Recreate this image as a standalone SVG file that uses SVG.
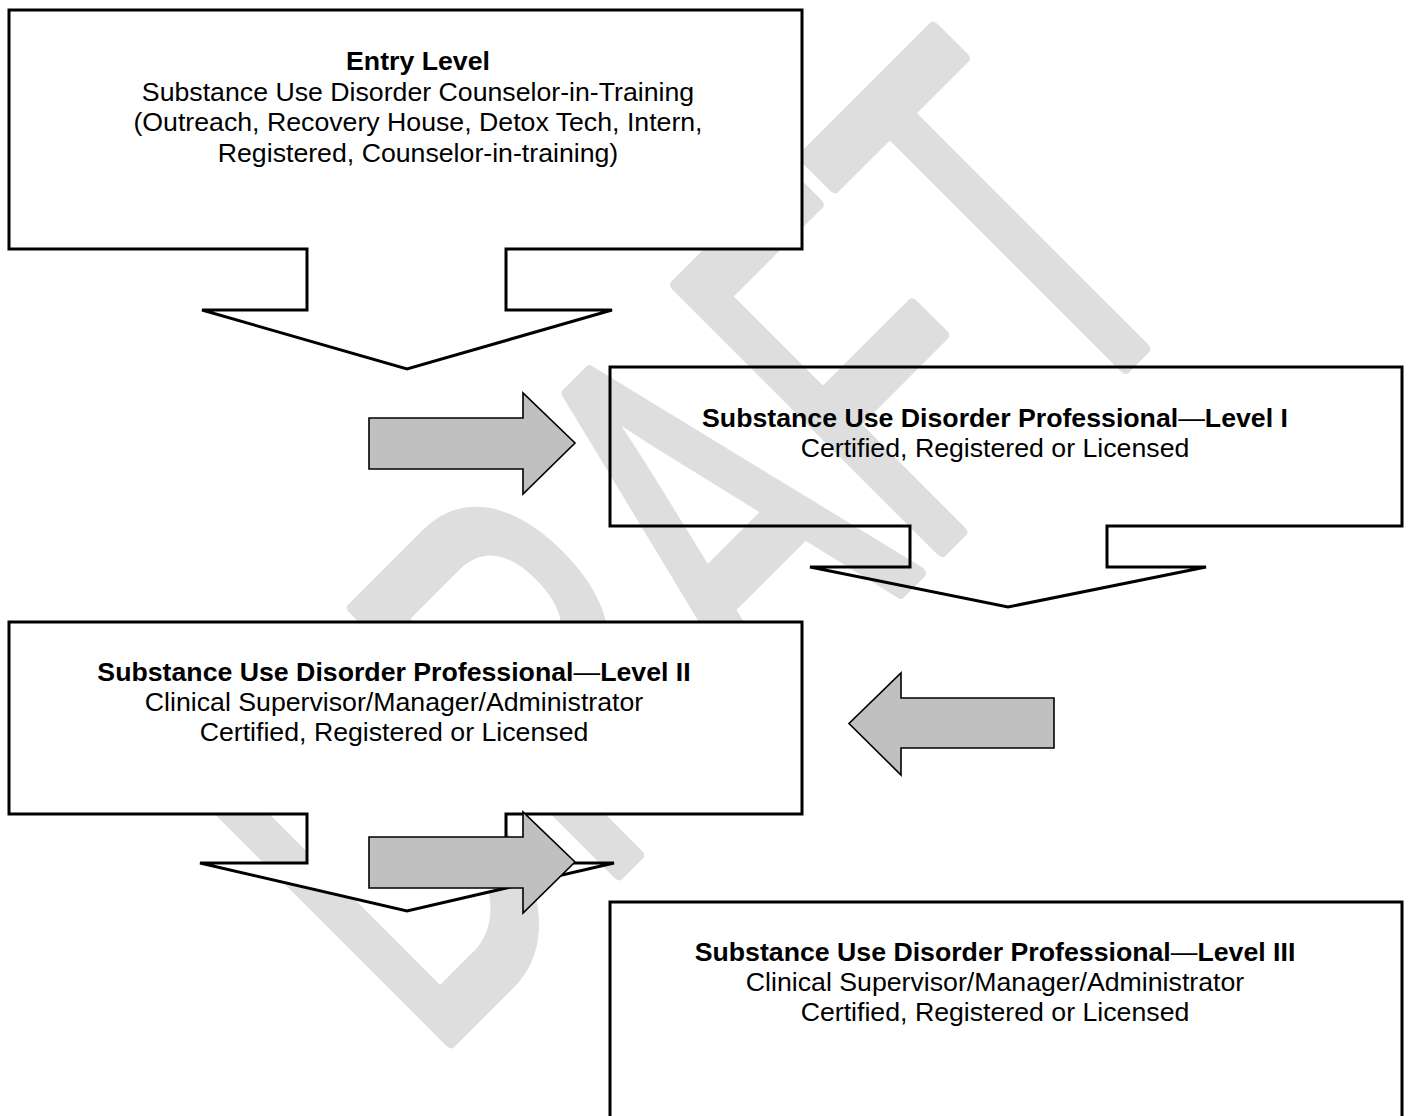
<svg xmlns="http://www.w3.org/2000/svg" width="1408" height="1116" viewBox="0 0 1408 1116">
<style>
.box{fill:#fff;stroke:#000;stroke-width:3;stroke-linejoin:miter}
.open{fill:none;stroke:#000;stroke-width:3;stroke-linejoin:miter}
.arr{fill:#c0c0c0;stroke:#000;stroke-width:1.6;stroke-linejoin:miter}
.t{font-family:"Liberation Sans",Arial,sans-serif;font-size:26.7px;fill:#000;text-anchor:middle}
.b{font-weight:bold}
.n{font-weight:normal}
.wm{font-family:"Liberation Sans",Arial,sans-serif;font-size:329px;fill:#dedede;stroke:#dedede;stroke-width:8;stroke-linejoin:round}
</style>
<rect width="1408" height="1116" fill="#fff"/>
<g id="watermark">
<text class="wm" transform="translate(430,1062) rotate(-45) scale(1,1.655)" x="0" y="0">DRAFT</text>
</g>
<g id="entry">
<path class="box" d="M9,10 H802 V249 H506 V310 H612 L407,369 L202,310 H307 V249 H9 Z"/>
<text class="t b" x="418" y="70">Entry Level</text>
<text class="t" x="418" y="100.5">Substance Use Disorder Counselor-in-Training</text>
<text class="t" x="418" y="131">(Outreach, Recovery House, Detox Tech, Intern,</text>
<text class="t" x="418" y="161.5">Registered, Counselor-in-training)</text>
</g>
<g id="level1">
<path class="open" d="M610,367 H1402 V526 H1107 V567 H1206 L1008,607 L810,567 H910 V526 H610 Z"/>
<text class="t" x="995" y="427"><tspan class="b">Substance Use Disorder Professional</tspan><tspan class="n">—</tspan><tspan class="b">Level I</tspan></text>
<text class="t" x="995" y="457">Certified, Registered or Licensed</text>
</g>
<g id="level2">
<path class="box" d="M9,622 H802 V814 H506 V863 H614 L407,911 L200,863 H307 V814 H9 Z"/>
<text class="t" x="394" y="681"><tspan class="b">Substance Use Disorder Professional</tspan><tspan class="n">—</tspan><tspan class="b">Level II</tspan></text>
<text class="t" x="394" y="711">Clinical Supervisor/Manager/Administrator</text>
<text class="t" x="394" y="741">Certified, Registered or Licensed</text>
</g>
<g id="level3">
<rect class="box" x="610" y="902" width="792" height="240"/>
<text class="t" x="995" y="961"><tspan class="b">Substance Use Disorder Professional</tspan><tspan class="n">—</tspan><tspan class="b">Level III</tspan></text>
<text class="t" x="995" y="991">Clinical Supervisor/Manager/Administrator</text>
<text class="t" x="995" y="1021">Certified, Registered or Licensed</text>
</g>
<g id="connectors">
<path class="arr" d="M369,418 H523 V393 L575,443 L523,494 V469 H369 Z"/>
<path class="arr" d="M1054,698 V748 H901 V775 L849,723.5 L901,673 V698 Z"/>
<path class="arr" d="M369,837 H523 V812 L575,862 L523,913 V888 H369 Z"/>
</g>
</svg>
